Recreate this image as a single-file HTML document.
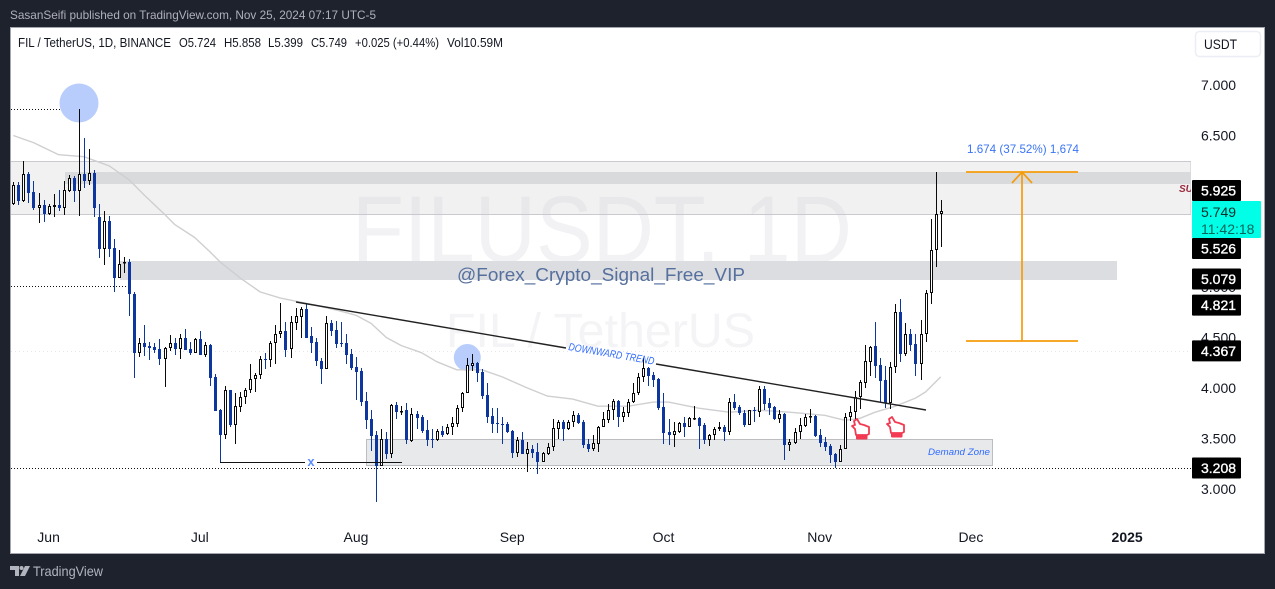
<!DOCTYPE html>
<html lang="en">
<head>
<meta charset="utf-8">
<title>FIL / TetherUS chart</title>
<style>
html,body{margin:0;padding:0;background:#1e222d;width:1275px;height:589px;overflow:hidden}
svg{display:block;font-family:"Liberation Sans",sans-serif}
text{white-space:pre}
</style>
</head>
<body>
<svg xmlns="http://www.w3.org/2000/svg" width="1275" height="589" viewBox="0 0 1275 589">
<defs><clipPath id="pane-clip"><rect x="11" y="28" width="1180" height="524"/></clipPath></defs>
<rect x="0" y="0" width="1275" height="589" fill="#1e222d"/>
<text x="10" y="19" font-size="12" fill="#aeb1ba" textLength="366" lengthAdjust="spacingAndGlyphs">SasanSeifi published on TradingView.com, Nov 25, 2024 07:17 UTC-5</text>
<rect x="10.5" y="27.5" width="1254" height="526" fill="#ffffff" stroke="#a3a6af" stroke-width="1"/>

<g clip-path="url(#pane-clip)">
  <text x="352" y="262" font-size="95" fill="#f2f2f4" textLength="500" lengthAdjust="spacingAndGlyphs">FILUSDT, 1D</text>
  <text x="446" y="347" font-size="48" fill="#f4f4f6" textLength="309" lengthAdjust="spacingAndGlyphs">FIL / TetherUS</text>

  <rect x="9" y="161.5" width="1182" height="53" fill="#cfcfd3" fill-opacity="0.3" stroke="#c9cacf" stroke-width="1"/>
  <rect x="65" y="172" width="1127" height="12" fill="#d9dadc"/>
  <rect x="120" y="261" width="997" height="19" fill="#dcdde0"/>
  <rect x="366.5" y="439.5" width="626" height="26" fill="#e8e9eb" stroke="#bcbdc0" stroke-width="1"/>
  <line x1="11" y1="351.5" x2="1191" y2="351.5" stroke="#e6e6e8" stroke-width="1" stroke-dasharray="1 3"/>
  <line x1="11" y1="109.5" x2="83" y2="109.5" stroke="#111" stroke-width="1" stroke-dasharray="1 2"/>
  <line x1="11" y1="286.5" x2="129" y2="286.5" stroke="#111" stroke-width="1" stroke-dasharray="1 2"/>
  <line x1="11" y1="468.5" x2="1191" y2="468.5" stroke="#111" stroke-width="1" stroke-dasharray="1 2"/>

  <circle cx="79" cy="103" r="19.5" fill="#b9cdfd"/>
  <circle cx="467.3" cy="357.5" r="13.5" fill="#b9cdfd"/>

  <g id="ma-layer"></g>
  <g id="candle-layer"></g>

  <line x1="296" y1="302" x2="566" y2="348" stroke="#222" stroke-width="1.4"/>
  <line x1="656" y1="364" x2="926" y2="410" stroke="#222" stroke-width="1.4"/>
  <text x="0" y="0" transform="translate(568 350) rotate(9.7)" font-size="10.5" font-style="italic" fill="#2f6bff" textLength="87" lengthAdjust="spacingAndGlyphs">DOWNWARD TREND</text>

  <line x1="220" y1="462.5" x2="305" y2="462.5" stroke="#111" stroke-width="1"/>
  <line x1="317" y1="462.5" x2="402" y2="462.5" stroke="#111" stroke-width="1"/>
  <text x="311" y="466" text-anchor="middle" font-size="13" font-weight="bold" fill="#5c8cff">x</text>

  <text x="457" y="281" font-size="18" fill="#56709e" textLength="288" lengthAdjust="spacingAndGlyphs">@Forex_Crypto_Signal_Free_VIP</text>
  <text x="928" y="455" font-size="9.5" font-style="italic" fill="#2f6bff" textLength="62" lengthAdjust="spacingAndGlyphs">Demand Zone</text>
  <text x="1179" y="192" font-size="10" font-weight="bold" font-style="italic" fill="#9b2a3c">SUPPLY</text>

  <g transform="translate(851 418)">
    <path d="M3 3 L6 1 L9 6 L13 7 L18 9 L18 16 L16 17 L5 17 L4 11 L1 8 L4 7 Z" fill="#fff" stroke="#f23b52" stroke-width="1.8" stroke-linejoin="round"/>
    <rect x="5" y="16.5" width="11.5" height="5" rx="1" fill="#f23b52"/>
  </g>
  <g transform="translate(886 416)">
    <path d="M3 3 L6 1 L9 6 L13 7 L18 9 L18 16 L16 17 L5 17 L4 11 L1 8 L4 7 Z" fill="#fff" stroke="#f23b52" stroke-width="1.8" stroke-linejoin="round"/>
    <rect x="5" y="16.5" width="11.5" height="5" rx="1" fill="#f23b52"/>
  </g>

  <g stroke="#f59c0b" fill="none" stroke-width="1.7">
    <line x1="966" y1="172" x2="1078" y2="172"/>
    <line x1="966" y1="341" x2="1078" y2="341"/>
    <line x1="1022" y1="172" x2="1022" y2="341"/>
    <polyline points="1012,183 1022,172 1032,183"/>
  </g>
  <text x="967" y="153" font-size="12" fill="#3a74f5" textLength="112" lengthAdjust="spacingAndGlyphs">1.674 (37.52%) 1,674</text>
</g>

<g font-size="13" fill="#131722">
  <text x="18" y="47" textLength="153" lengthAdjust="spacingAndGlyphs">FIL / TetherUS, 1D, BINANCE</text>
  <text x="179" y="47" textLength="37" lengthAdjust="spacingAndGlyphs">O5.724</text>
  <text x="224" y="47" textLength="37" lengthAdjust="spacingAndGlyphs">H5.858</text>
  <text x="268" y="47" textLength="35" lengthAdjust="spacingAndGlyphs">L5.399</text>
  <text x="311" y="47" textLength="36" lengthAdjust="spacingAndGlyphs">C5.749</text>
  <text x="355" y="47" textLength="84" lengthAdjust="spacingAndGlyphs">+0.025 (+0.44%)</text>
  <text x="447" y="47" textLength="56" lengthAdjust="spacingAndGlyphs">Vol10.59M</text>
</g>

<g id="axis-layer"></g>

<g>
  <rect x="1195.5" y="31.5" width="65" height="25" rx="4" fill="#fff" stroke="#eceef5" stroke-width="1.5"/>
  <text x="1204" y="49" font-size="14" fill="#131722" textLength="33" lengthAdjust="spacingAndGlyphs">USDT</text>
</g>

<g fill="#b2b5be">
  <polygon points="10,566 19,566 19,576 15,576 15,570 10,570"/>
  <circle cx="21.5" cy="568" r="2"/>
  <polygon points="25,566 30,566 25,576 20,576"/>
  <text x="33" y="576" font-size="14" textLength="70" lengthAdjust="spacingAndGlyphs">TradingView</text>
</g>

<script>
const opens = [5.82,6.01,5.85,6.12,5.94,5.78,5.81,5.72,5.79,5.81,5.78,5.95,6.08,5.95,6.12,6.05,6.13,5.69,5.38,5.65,5.39,5.09,5.24,5.25,4.93,4.35,4.45,4.42,4.41,4.39,4.29,4.40,4.45,4.39,4.50,4.39,4.35,4.49,4.33,4.43,4.11,3.78,3.53,3.98,3.63,3.81,3.91,3.98,4.09,4.13,4.29,4.28,4.45,4.53,4.56,4.39,4.64,4.70,4.78,4.51,4.46,4.27,4.19,4.64,4.57,4.45,4.45,4.34,4.21,4.17,3.87,3.69,3.53,3.23,3.50,3.35,3.83,3.76,3.78,3.48,3.74,3.71,3.58,3.50,3.49,3.57,3.54,3.61,3.64,3.80,3.95,4.22,4.25,4.16,3.93,3.72,3.65,3.64,3.64,3.57,3.36,3.49,3.35,3.40,3.37,3.27,3.35,3.42,3.59,3.66,3.59,3.66,3.73,3.66,3.45,3.40,3.45,3.61,3.68,3.78,3.87,3.71,3.75,3.86,3.95,4.11,4.20,4.13,4.09,3.81,3.56,3.53,3.56,3.65,3.61,3.69,3.70,3.63,3.49,3.53,3.59,3.61,3.56,3.86,3.81,3.75,3.63,3.78,3.76,3.99,3.85,3.81,3.69,3.74,3.44,3.46,3.56,3.62,3.71,3.72,3.53,3.47,3.43,3.35,3.27,3.40,3.71,3.76,3.91,4.05,4.26,4.42,4.23,4.08,3.85,4.21,4.75,4.34,4.53,4.44,4.24,4.53,4.94,5.37,5.724];
const highs = [6.04,6.04,6.25,6.14,6.05,5.93,5.86,5.82,5.92,5.96,6.05,6.11,6.10,6.76,6.48,6.37,6.16,5.82,5.75,5.70,5.48,5.37,5.30,5.28,4.95,4.50,4.62,4.46,4.45,4.49,4.41,4.52,4.50,4.53,4.58,4.46,4.50,4.56,4.46,4.44,4.14,3.79,4.02,3.98,3.95,3.96,4.00,4.24,4.15,4.32,4.35,4.47,4.62,4.84,4.65,4.71,4.79,4.80,4.84,4.60,4.50,4.30,4.71,4.67,4.66,4.65,4.53,4.39,4.31,4.20,3.96,3.78,3.57,3.59,3.56,3.84,3.86,3.82,3.85,3.80,3.77,3.73,3.68,3.59,3.59,3.62,3.64,3.71,3.83,3.96,4.30,4.34,4.26,4.19,4.05,3.80,3.80,3.71,3.66,3.58,3.51,3.56,3.47,3.44,3.46,3.37,3.46,3.69,3.68,3.68,3.68,3.77,3.75,3.68,3.50,3.53,3.62,3.76,3.84,3.89,3.88,3.81,3.89,4.05,4.15,4.30,4.21,4.16,4.10,3.95,3.69,3.66,3.66,3.71,3.71,3.82,3.71,3.65,3.54,3.61,3.66,3.63,3.90,3.94,3.83,3.78,3.78,3.81,4.02,4.02,3.90,3.82,3.78,3.75,3.50,3.60,3.70,3.74,3.79,3.73,3.59,3.51,3.45,3.36,3.44,3.75,3.82,3.97,4.08,4.43,4.42,4.65,4.30,4.22,4.26,4.83,4.88,4.64,4.58,4.53,4.67,4.97,5.67,6.14,5.858];
const lows = [5.81,5.81,5.84,5.83,5.76,5.63,5.64,5.71,5.69,5.75,5.71,5.94,5.84,5.70,5.98,6.01,5.69,5.29,5.22,5.30,4.95,5.09,5.14,4.71,4.10,4.31,4.32,4.28,4.35,4.23,4.01,4.37,4.33,4.29,4.38,4.33,4.35,4.33,4.31,4.02,3.77,3.27,3.50,3.61,3.45,3.76,3.84,3.95,3.96,4.09,4.19,4.21,4.24,4.50,4.31,4.30,4.57,4.50,4.50,4.35,4.22,4.04,4.19,4.51,4.40,4.41,4.24,4.18,3.88,3.82,3.59,3.38,2.87,3.23,3.30,3.31,3.69,3.73,3.45,3.47,3.59,3.55,3.43,3.41,3.48,3.51,3.53,3.53,3.61,3.76,3.95,4.17,4.06,3.89,3.65,3.55,3.55,3.45,3.55,3.31,3.32,3.35,3.17,3.31,3.15,3.27,3.34,3.38,3.50,3.48,3.58,3.61,3.64,3.41,3.37,3.38,3.37,3.61,3.65,3.68,3.61,3.66,3.71,3.85,3.93,4.06,4.02,4.01,3.78,3.45,3.44,3.42,3.55,3.51,3.61,3.68,3.40,3.45,3.43,3.49,3.57,3.48,3.53,3.78,3.73,3.61,3.63,3.66,3.71,3.78,3.73,3.68,3.65,3.29,3.38,3.45,3.50,3.61,3.65,3.51,3.42,3.38,3.26,3.21,3.27,3.40,3.67,3.68,3.79,4.00,4.12,4.10,3.86,3.80,3.79,4.15,4.26,4.32,4.37,4.12,4.08,4.46,4.83,5.20,5.399];
const closes = [6.01,5.85,6.12,5.93,5.78,5.81,5.72,5.80,5.81,5.78,5.96,6.08,5.95,6.12,6.05,6.13,5.78,5.38,5.65,5.38,5.09,5.23,5.25,4.93,4.35,4.45,4.41,4.40,4.38,4.29,4.40,4.45,4.39,4.50,4.38,4.35,4.49,4.33,4.43,4.10,3.77,3.53,3.98,3.63,3.82,3.91,3.98,4.09,4.13,4.29,4.28,4.45,4.53,4.56,4.38,4.65,4.71,4.78,4.50,4.45,4.27,4.19,4.64,4.56,4.44,4.44,4.33,4.20,4.16,3.86,3.68,3.52,3.23,3.50,3.35,3.83,3.76,3.77,3.49,3.74,3.70,3.57,3.49,3.49,3.57,3.53,3.61,3.65,3.80,3.95,4.23,4.25,4.15,3.92,3.71,3.64,3.64,3.63,3.56,3.36,3.49,3.35,3.40,3.36,3.27,3.36,3.42,3.60,3.66,3.59,3.66,3.73,3.65,3.44,3.40,3.46,3.61,3.69,3.78,3.87,3.71,3.76,3.86,3.95,4.11,4.20,4.12,4.08,3.80,3.55,3.53,3.57,3.65,3.61,3.70,3.70,3.62,3.49,3.53,3.59,3.61,3.56,3.86,3.80,3.75,3.63,3.78,3.77,3.99,3.84,3.80,3.69,3.74,3.44,3.47,3.56,3.63,3.71,3.72,3.52,3.46,3.42,3.34,3.27,3.40,3.71,3.76,3.91,4.06,4.27,4.41,4.22,4.07,3.85,4.21,4.75,4.34,4.53,4.43,4.24,4.53,4.94,5.37,5.72,5.749];
const maDays = [0,4,9,14,19,23,26,30,32,36,39,41,45,49,53,57,60,65,68,71,74,77,81,84,88,93,97,102,106,111,116,122,127,130,136,142,148,154,161,165,168,171,175,179,181,184];
const maValues = [6.50,6.43,6.31,6.29,6.20,6.06,5.91,5.72,5.62,5.49,5.35,5.25,5.09,4.95,4.89,4.85,4.82,4.76,4.72,4.64,4.50,4.42,4.35,4.26,4.18,4.18,4.11,4.00,3.92,3.89,3.82,3.82,3.86,3.86,3.80,3.76,3.78,3.76,3.73,3.68,3.70,3.76,3.82,3.90,3.96,4.11];
const priceTicks = ["7.000","6.500","6.000","5.500","5.000","4.500","4.000","3.500","3.000"];
const timeTickLabels = ["Jun","Jul","Aug","Sep","Oct","Nov","Dec","2025"];
const timeTickDays = [7,37,68,99,129,160,190,221];
const levelTags = ["5.925","5.526","5.079","4.821","4.367","3.208"];
const lastPrice = "5.749";
const countdown = "11:42:18";

const NS = "http://www.w3.org/2000/svg";
function x(day){ return 13.3 + 5.04 * day; }
function y(price){ return 792 - 101 * price; }
function make(tag, attrs, parent){
  const el = document.createElementNS(NS, tag);
  for (const k in attrs) el.setAttribute(k, attrs[k]);
  parent.appendChild(el);
  return el;
}
const candleLayer = document.getElementById("candle-layer");
const maLayer = document.getElementById("ma-layer");
const axisLayer = document.getElementById("axis-layer");

const maPoints = maDays.map(function(d, i){ return x(d).toFixed(1) + "," + y(maValues[i]).toFixed(1); }).join(" ");
const maLine = make("polyline", {points: maPoints, fill: "none", stroke: "#cfcfd2", "stroke-width": 1.4, "stroke-linejoin": "round"}, maLayer);



opens.forEach(function(o, i){
  const c = closes[i], up = c >= o;
  const color = up ? "#0a0a0a" : "#0d379e";
  const cx = Math.round(x(i));
  const top = Math.round(y(Math.max(o, c)));
  const bot = Math.round(y(Math.min(o, c)));
  const g = make("g", {"shape-rendering": "crispEdges"}, candleLayer);
  
  
  const hy = Math.round(y(highs[i])), ly = Math.round(y(lows[i]));
  const wick = make("rect", {x: cx, y: hy, width: 1, height: Math.max(1, ly - hy), fill: color}, g);
  
  
  const h = Math.max(1, bot - top);
  let body;
  if (up) {
    body = make("rect", {x: cx - 0.5, y: top + 0.5, width: 2, height: Math.max(0.5, h - 1), fill: "#fff", stroke: color, "stroke-width": 1}, g);
  } else {
    body = make("rect", {x: cx - 1, y: top, width: 3, height: h, fill: color}, g);
  }
  
  
});

priceTicks.forEach(function(t){
  const el = make("text", {x: 1201, y: y(+t) + 5, "font-size": 14, fill: "#131722"}, axisLayer);
  el.textContent = t;
  
  
});

timeTickLabels.forEach(function(t, i){
  const el = make("text", {x: x(timeTickDays[i]), y: 542, "font-size": 14, "text-anchor": "middle", fill: "#131722", "font-weight": t === "2025" ? "bold" : "normal"}, axisLayer);
  el.textContent = t;
  
  
});

const lastTop = Math.round(y(+lastPrice)) - 10;
const lastBottom = lastTop + 37;
levelTags.forEach(function(t){
  let cy = y(+t);
  if (cy + 10.5 > lastTop && cy - 10.5 < lastBottom) {
    cy = cy < lastTop + 5 ? lastTop - 10.5 : lastBottom + 10.5;
  }
  const g = make("g", {}, axisLayer);
  
  
  const box = make("rect", {x: 1192, y: cy - 10.5, width: 49, height: 21, rx: 1, fill: "#000"}, g);
  
  
  const label = make("text", {x: 1201, y: cy + 5, "font-size": 14, fill: "#fff", stroke: "#fff", "stroke-width": 0.35}, g);
  label.textContent = t;
  
  
});

const lastBox = make("rect", {x: 1192, y: lastTop, width: 69, height: 37, rx: 1, fill: "#00ffe6"}, axisLayer);


const lastText = make("text", {x: 1201, y: lastTop + 16, "font-size": 14, fill: "#06302c"}, axisLayer);
lastText.textContent = lastPrice;


const cdText = make("text", {x: 1201, y: lastTop + 33, "font-size": 14, fill: "#00665c"}, axisLayer);
cdText.textContent = countdown;


</script>
</svg>
</body>
</html>
